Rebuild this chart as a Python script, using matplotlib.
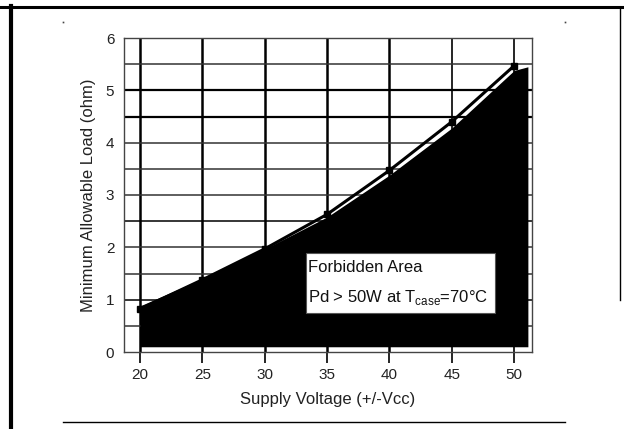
"""
Minimum allowable load vs supply voltage, with forbidden area (Pd > 50 W at Tcase = 70 C).
Datasheet-style scan recreation.
"""

import matplotlib
matplotlib.use("Agg")
import matplotlib.pyplot as plt
from matplotlib.patches import Rectangle
from matplotlib.lines import Line2D

plt.rcParams["font.family"] = ["Liberation Sans", "DejaVu Sans"]
plt.rcParams["mathtext.fontset"] = "custom"
plt.rcParams["mathtext.rm"] = "Liberation Sans"

# measured curve (square markers)
vcc      = [20, 25, 30, 35, 40, 45, 50]
min_load = [0.82, 1.38, 1.97, 2.63, 3.47, 4.40, 5.47]

# forbidden area outline
area_v   = [20, 25, 30, 35, 40, 45, 50, 51.1]
area_top = [0.88, 1.40, 1.97, 2.58, 3.38, 4.28, 5.38, 5.45]
area_bot = 0.1

x_ticks = [20, 25, 30, 35, 40, 45, 50]
y_ticks = [0, 1, 2, 3, 4, 5, 6]
y_grid  = [0.5, 1, 1.5, 2, 2.5, 3, 3.5, 4, 4.5, 5, 5.5]

W, H = 624, 429
fig = plt.figure(figsize=(W / 100, H / 100), dpi=100)
ax = fig.add_axes([124 / W, 1 - 352 / H, (532 - 124) / W, (352 - 38) / H])

ax.set_xlim(18.72, 51.43)
ax.set_ylim(0, 6)

# grid
for xv in x_ticks:
    ax.axvline(xv, color="black", lw=1.8 if xv < 45 else 1.2, zorder=1)
for yv in y_grid:
    ax.axhline(yv, color="black" if yv in (4.5, 5, 1, 2.5) else "#333333",
               lw=1.6 if yv in (4.5, 5) else 1.1, zorder=1)

ax.fill_between(area_v, area_top, area_bot, color="black", lw=0, zorder=2)
ax.plot(vcc, min_load, color="black", lw=2.2, marker="s", ms=5, zorder=3)

# label box
ax.add_patch(Rectangle((33.3, 0.75), 15.2, 1.14, facecolor="white",
                       edgecolor="#555555", lw=0.8, zorder=4))
ax.text(33.45, 1.61, "Forbidden Area", fontsize=12, va="center", ha="left",
        color="#111111", zorder=5)
ax.text(33.45, 1.05, r"Pd > 50W at T$_{\rm case}$=70°C", fontsize=12,
        va="center", ha="left", color="#111111", zorder=5)

ax.set_xticks(x_ticks)
ax.set_yticks(y_ticks)
ax.tick_params(axis="x", length=8, width=1.2, pad=3.5, labelsize=11, colors="black")
ax.tick_params(axis="y", length=0, pad=7, labelsize=11)
for t in ax.get_xticklabels() + ax.get_yticklabels():
    t.set_color("#222222")
for s in ax.spines.values():
    s.set_linewidth(1.0)
    s.set_color("#444444")

ax.set_xlabel("Supply Voltage (+/-Vcc)", fontsize=12, labelpad=7, color="#222222")
ax.set_ylabel("Minimum Allowable Load (ohm)", fontsize=12, labelpad=7, color="#222222")

# page frame lines from the scanned sheet
fig.add_artist(Line2D([0, 1], [1 - 7 / H, 1 - 7 / H], color="black", lw=2.2))
fig.add_artist(Line2D([10.5 / W, 10.5 / W], [0, 1 - 6 / H], color="black", lw=3))
fig.add_artist(Line2D([619.5 / W, 619.5 / W], [1 - 300 / H, 1 - 7 / H], color="black", lw=1))
fig.add_artist(Line2D([63 / W, 565 / W], [1 - 422 / H, 1 - 422 / H], color="black", lw=1))
fig.add_artist(Line2D([63 / W, 565 / W], [1 - 22 / H, 1 - 22 / H], color="black",
                      lw=0, marker="s", ms=1.2, mec="none", mfc="#444444"))

fig.savefig("out.png", dpi=100)
